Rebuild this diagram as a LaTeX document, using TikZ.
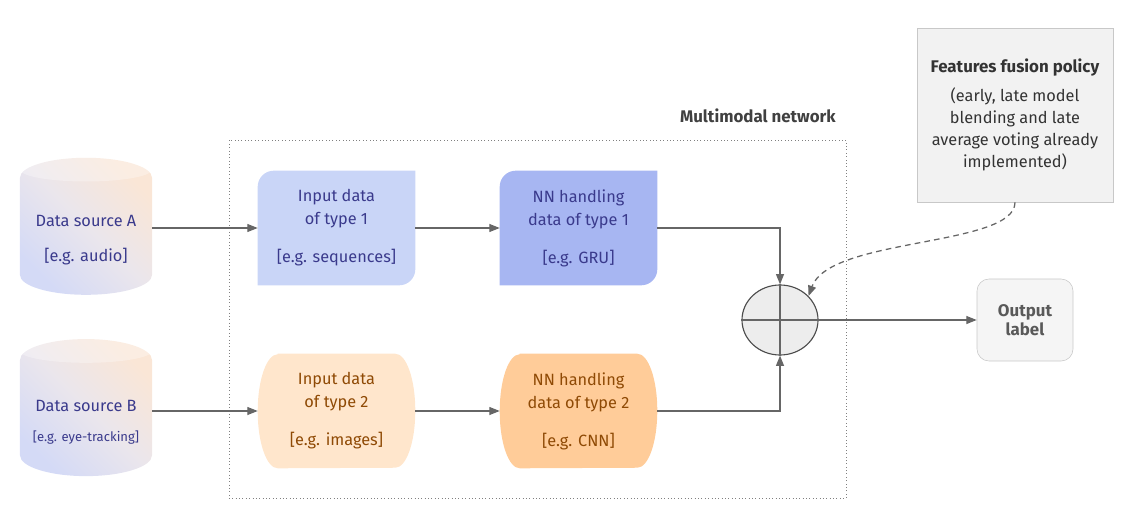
\documentclass[tikz,border=0pt]{standalone}
\usepackage{fontspec}
\setmainfont{Fira Sans}
\usetikzlibrary{shapes.geometric,arrows.meta,backgrounds}
\definecolor{ink}{HTML}{3A3A8C}
\definecolor{brown}{HTML}{8F4A05}
\definecolor{blueA}{HTML}{C9D5F7}
\definecolor{blueB}{HTML}{A7B6F2}
\definecolor{orangeA}{HTML}{FFE6CC}
\definecolor{orangeB}{HTML}{FFCC99}
\definecolor{peach}{HTML}{FAE6D6}
\definecolor{lavender}{HTML}{D4DAF6}
\definecolor{linegray}{HTML}{666666}
\definecolor{boxgray}{HTML}{C8C8C8}
\begin{document}
\begin{tikzpicture}[x = 0.025cm, y = 0.025cm, align = center, font = \fontsize{11.6}{16.4}\selectfont,
    arr/.style = { draw = linegray, line width = 0.9pt, -{Triangle[length = 0.26cm, width = 0.2cm]} },
    source/.style = { cylinder, shape border rotate = 90, aspect = 0.36, minimum width = 3.3cm, minimum height = 3.425cm, top color = peach, bottom color = lavender, middle color = peach!45!lavender!80!white, shading angle = -45, text = ink },
    stage/.style = { minimum width = 3.925cm, minimum height = 2.85cm, inner sep = 0pt }]
	\useasboundingbox (0,0) rectangle (1135,527);
	% data sources
	\node[source] (srcA) at (86,287) {Data source A \\[8.5pt] [e.g. audio]};
	\node[source] (srcB) at (86,105) {Data source B \\[5pt] {\fontsize{9.3}{11}\selectfont [e.g. eye-tracking]}};
	\foreach \s in {srcA, srcB}
		\fill[white, opacity = 0.3] ([yshift = -0.3cm]\s.top) ellipse [x radius = 1.65cm, y radius = 0.3cm];
	% multimodal network
	\node[draw = gray, dotted, minimum width = 15.425cm, minimum height = 8.95cm] (net) at (537.5,208) {};
	\node[anchor = east, inner sep = 0pt, font = \fontsize{12}{13}\selectfont\bfseries, text = black!75] (netlabel) at (836,411) {Multimodal network};
	\node[stage, text = ink] (in1) at (336.5,299) {Input data \\ of type 1 \\[10.6pt] [e.g. sequences]};
	\node[stage, text = ink] (nn1) at (578.5,299) {NN handling \\ data of type 1 \\[10.6pt] [e.g. GRU]};
	\node[stage, text = brown] (in2) at (336.5,116) {Input data \\ of type 2 \\[10.6pt] [e.g. images]};
	\node[stage, text = brown] (nn2) at (578.5,116) {NN handling \\ data of type 2 \\[10.6pt] [e.g. CNN]};
	\begin{scope}[on background layer]
		\foreach \n/\c in {in1/blueA, nn1/blueB}
			\fill[\c] ([yshift = -0.4cm]\n.north west) arc [start angle = 180, end angle = 90, radius = 0.4cm] -- (\n.north east) -- ([yshift = 0.4cm]\n.south east) arc [start angle = 0, end angle = -90, radius = 0.4cm] -- (\n.south west) -- cycle;
		\foreach \n/\c in {in2/orangeA, nn2/orangeB}
			\fill[\c] ([xshift = 0.5cm]\n.north west) -- ([xshift = -0.5cm]\n.north east) arc [start angle = 90, end angle = -90, x radius = 0.5cm, y radius = 1.425cm] -- ([xshift = 0.5cm]\n.south west) arc [start angle = 270, end angle = 90, x radius = 0.5cm, y radius = 1.425cm] -- cycle;
	\end{scope}
	% fusion
	\node[ellipse, draw = black!70, fill = black!7, line width = 0.8pt, minimum width = 1.9cm, minimum height = 1.75cm] (sum) at (780,207) {};
	\draw[linegray, line width = 0.8pt] (sum.north) -- (sum.south) (sum.west) -- (sum.east);
	\node[draw = boxgray, fill = black!4, rounded corners = 0.3cm, minimum width = 2.4cm, minimum height = 2.05cm, text = black!65, font = \fontsize{12}{13.5}\selectfont\bfseries] (out) at (1025,207) {Output \\ label};
	\node[draw = boxgray, fill = black!5, minimum width = 4.9cm, minimum height = 4.35cm, text = black!80, font = \fontsize{11.6}{15.6}\selectfont] (policy) at (1015,412) {{\fontsize{12}{15.6}\selectfont\bfseries Features fusion policy} \\[5pt] (early, late model \\ blending and late \\ average voting already \\ implemented)};
	\draw[arr] (in1.west -| srcA.east) -- (in1.west);
	\draw[arr] (in2.west -| srcB.east) -- (in2.west);
	\draw[arr] (in1.east) -- (nn1.west);
	\draw[arr] (in2.east) -- (nn2.west);
	\draw[arr] (nn1.east) -| (sum.north);
	\draw[arr] (nn2.east) -| (sum.south);
	\draw[arr] (sum.east) -- (out.west);
	\draw[arr, dash pattern = on 4pt off 3pt] (policy.south) .. controls (1015,280) and (830,290) .. (sum.40);
\end{tikzpicture}
\end{document}
